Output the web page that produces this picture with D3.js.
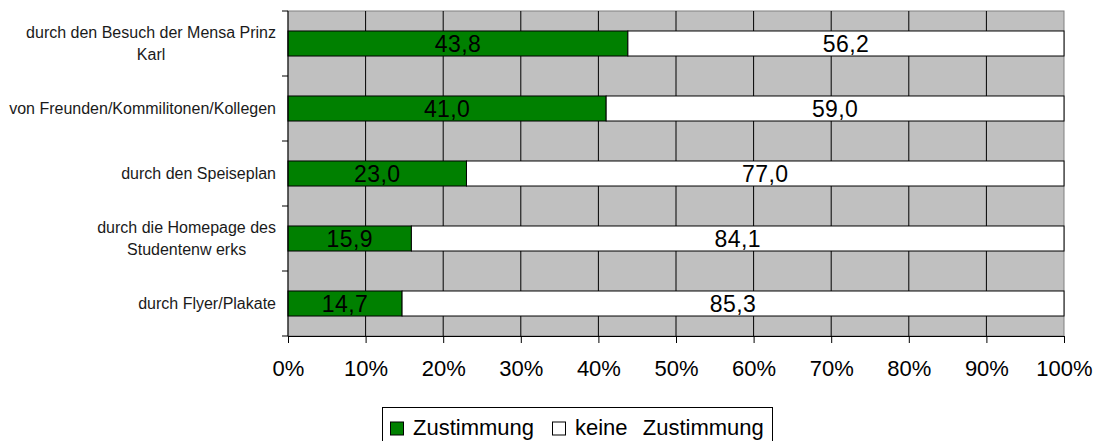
<!DOCTYPE html>
<html>
<head>
<meta charset="utf-8">
<script src="https://cdn.jsdelivr.net/npm/d3@7"></script>
<style>
  body { margin: 0; background: #fff; }
  text { font-family: "Liberation Sans", Arial, sans-serif; }
</style>
</head>
<body>
<div id="chart"></div>
<script>
var categories = [
  ["durch den Besuch der Mensa Prinz", "Karl"],
  ["von Freunden/Kommilitonen/Kollegen"],
  ["durch den Speiseplan"],
  ["durch die Homepage des", "Studentenw erks"],
  ["durch Flyer/Plakate"]
];
var zustimmung = [43.8, 41.0, 23.0, 15.9, 14.7];
var keineZustimmung = [56.2, 59.0, 77.0, 84.1, 85.3];
var tickValues = [0, 10, 20, 30, 40, 50, 60, 70, 80, 90, 100];
var seriesNames = ["Zustimmung", "keine Zustimmung"];
var colors = ["#008000", "#ffffff"];

var width = 1099, height = 441;
var plotLeft = 288, plotRight = 1064, plotTop = 11, plotBottom = 336;

var svg = d3.select("#chart").append("svg")
  .attr("width", width)
  .attr("height", height);

var x = d3.scaleLinear().domain([0, 100]).range([plotLeft, plotRight]);
var y = d3.scaleBand().domain(d3.range(categories.length)).range([plotTop, plotBottom]);
var barH = y.bandwidth() * 0.385;

// plot background
svg.append("rect")
  .attr("x", plotLeft).attr("y", plotTop)
  .attr("width", plotRight - plotLeft).attr("height", plotBottom - plotTop)
  .attr("fill", "#c0c0c0")
  .attr("stroke", "#808080");

// vertical gridlines
svg.selectAll("line.grid")
  .data(tickValues.slice(1, -1))
  .enter().append("line")
  .attr("class", "grid")
  .attr("x1", function(d) { return x(d); })
  .attr("x2", function(d) { return x(d); })
  .attr("y1", plotTop).attr("y2", plotBottom)
  .attr("stroke", "#000")
  .attr("stroke-width", 1);

// stacked bars
var stackData = zustimmung.map(function(d, i) {
  return [{ x0: 0, x1: d, c: 0 }, { x0: d, x1: d + keineZustimmung[i], c: 1 }];
});

var row = svg.selectAll("g.row")
  .data(stackData)
  .enter().append("g")
  .attr("class", "row")
  .attr("transform", function(d, i) {
    return "translate(0," + (y(i) + y.bandwidth() / 2) + ")";
  });

row.selectAll("rect")
  .data(function(d) { return d; })
  .enter().append("rect")
  .attr("x", function(d) { return x(d.x0); })
  .attr("y", -barH / 2)
  .attr("width", function(d) { return x(d.x1) - x(d.x0); })
  .attr("height", barH)
  .attr("fill", function(d) { return colors[d.c]; })
  .attr("stroke", "#000")
  .attr("stroke-width", 1);

row.selectAll("text")
  .data(function(d) { return d; })
  .enter().append("text")
  .attr("x", function(d) { return (x(d.x0) + x(d.x1)) / 2; })
  .attr("y", 0)
  .attr("dy", "0.36em")
  .attr("text-anchor", "middle")
  .attr("font-size", 23)
  .attr("letter-spacing", 0.4)
  .attr("fill", "#000")
  .text(function(d) { return (d.x1 - d.x0).toFixed(1).replace(".", ","); });

// x axis
var xAxis = svg.append("g")
  .attr("transform", "translate(0," + plotBottom + ")")
  .call(d3.axisBottom(x).tickValues(tickValues).tickSize(7).tickPadding(17)
    .tickFormat(function(d) { return d + "%"; }));
xAxis.select(".domain").attr("stroke", "#000");
xAxis.selectAll("line").attr("stroke", "#000");
xAxis.selectAll("text").attr("font-size", 22).attr("fill", "#000")
  .style("font-family", '"Liberation Sans", Arial, sans-serif');

// y axis (ticks on band boundaries)
var yBounds = d3.range(categories.length + 1).map(function(i) { return plotTop + i * y.step(); });
svg.append("line")
  .attr("x1", plotLeft).attr("x2", plotLeft).attr("y1", plotTop).attr("y2", plotBottom)
  .attr("stroke", "#000");
svg.selectAll("line.ytick")
  .data(yBounds)
  .enter().append("line")
  .attr("class", "ytick")
  .attr("x1", plotLeft - 6).attr("x2", plotLeft)
  .attr("y1", function(d) { return d; }).attr("y2", function(d) { return d; })
  .attr("stroke", "#000");

// category labels
var lineH = 22;
var labels = svg.selectAll("g.cat")
  .data(categories)
  .enter().append("g")
  .attr("class", "cat")
  .attr("transform", function(d, i) {
    return "translate(0," + (y(i) + y.bandwidth() / 2) + ")";
  });

labels.each(function(lines) {
  var g = d3.select(this);
  var first = g.append("text")
    .attr("font-size", 16)
    .attr("fill", "#1a1a1a")
    .attr("x", 276)
    .attr("text-anchor", "end")
    .attr("y", -(lines.length - 1) * lineH / 2)
    .attr("dy", "0.35em")
    .text(lines[0]);
  if (lines.length > 1) {
    var w = first.node().getComputedTextLength();
    g.append("text")
      .attr("font-size", 16)
      .attr("fill", "#1a1a1a")
      .attr("x", 276 - w / 2)
      .attr("y", lineH / 2)
      .attr("dy", "0.35em")
      .attr("text-anchor", "middle")
      .text(lines[1]);
  }
});

// legend
var legend = svg.append("g");
legend.append("rect")
  .attr("x", 382.5).attr("y", 407.5)
  .attr("width", 390).attr("height", 40)
  .attr("fill", "#fff")
  .attr("stroke", "#000");

var legendX = [390, 552];
var item = legend.selectAll("g.item")
  .data(seriesNames)
  .enter().append("g")
  .attr("class", "item")
  .attr("transform", function(d, i) { return "translate(" + legendX[i] + ",427)"; });
item.append("rect")
  .attr("x", 0.5).attr("y", -5)
  .attr("width", 13).attr("height", 13)
  .attr("fill", function(d, i) { return colors[i]; })
  .attr("stroke", "#000");
item.append("text")
  .attr("x", 23)
  .attr("y", 0)
  .attr("dy", "0.35em")
  .attr("font-size", 22)
  .attr("word-spacing", 9)
  .attr("fill", "#000")
  .text(function(d) { return d; });
</script>
</body>
</html>
